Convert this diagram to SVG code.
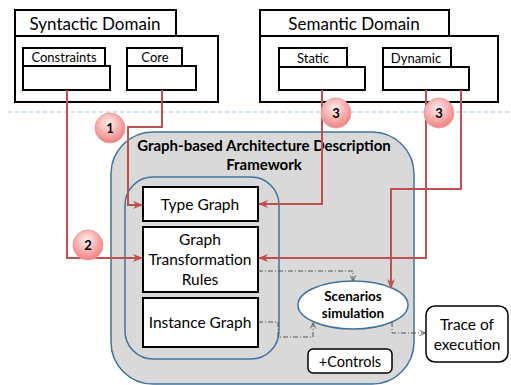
<svg xmlns="http://www.w3.org/2000/svg" width="511" height="385" viewBox="0 0 511 385">
<defs>
<radialGradient id="pink" cx="45%" cy="35%" r="65%">
<stop offset="0" stop-color="#fff0f0"/>
<stop offset="0.6" stop-color="#f8aaaa"/>
<stop offset="1" stop-color="#ee8080"/>
</radialGradient>
<marker id="ra" viewBox="0 0 10 10" refX="9" refY="5" markerWidth="5" markerHeight="5" orient="auto" markerUnits="strokeWidth">
<path d="M0,1 L10,5 L0,9 L3,5 z" fill="#c0504d"/>
</marker>
<marker id="ga" viewBox="0 0 10 10" refX="9" refY="5" markerWidth="7" markerHeight="7" orient="auto" markerUnits="strokeWidth">
<path d="M1,1 L9,5 L1,9" fill="none" stroke="#555" stroke-width="1.2"/>
</marker>
<style>
.t{font-family:Lato,"Liberation Sans",sans-serif;fill:#000}
.box{fill:#fff;stroke:#000;stroke-width:2}
.red{fill:none;stroke:#c0504d;stroke-width:2}
.dd{fill:none;stroke:#555;stroke-width:1;stroke-dasharray:5,2,1,2}
.num{fill:url(#pink);stroke:#e8a0a0;stroke-width:1}
.blue{stroke:#41719c;stroke-width:1.5}
</style>
</defs>
<line x1="8" y1="112" x2="511" y2="112" stroke="#9dc3e6" stroke-width="1" stroke-dasharray="4,3"/>

<g id="syntactic">
<rect class="box" x="15" y="10" width="161" height="26"/>
<rect class="box" x="15" y="36" width="203" height="66"/>
<text class="t" x="95" y="30" font-size="17" text-anchor="middle">Syntactic Domain</text>
</g>
<g id="constraints">
<rect class="box" x="23" y="48" width="82" height="18"/>
<rect class="box" x="23" y="66" width="87" height="24"/>
<text class="t" x="64" y="62" font-size="13" text-anchor="middle">Constraints</text>
</g>
<g id="core">
<rect class="box" x="127" y="48" width="55" height="18"/>
<rect class="box" x="127" y="66" width="69" height="24"/>
<text class="t" x="155" y="62" font-size="13" text-anchor="middle">Core</text>
</g>

<g id="semantic">
<rect class="box" x="260" y="10" width="189" height="26"/>
<rect class="box" x="260" y="36" width="238" height="66"/>
<text class="t" x="354" y="30" font-size="17" text-anchor="middle">Semantic Domain</text>
</g>
<g id="static">
<rect class="box" x="279" y="48" width="68" height="19"/>
<rect class="box" x="279" y="67" width="86" height="23"/>
<text class="t" x="313" y="63" font-size="13" text-anchor="middle">Static</text>
</g>
<g id="dynamic">
<rect class="box" x="383" y="48" width="68" height="19"/>
<rect class="box" x="383" y="67" width="86" height="23"/>
<text class="t" x="416" y="63" font-size="13" text-anchor="middle">Dynamic</text>
</g>

<g id="framework">
<rect x="111" y="132" width="303" height="252" rx="42" fill="#d9d9d9" class="blue"/>
<text class="t" x="264" y="151" font-size="15" font-weight="bold" text-anchor="middle">Graph-based Architecture Description</text>
<text class="t" x="264" y="170" font-size="15" font-weight="bold" text-anchor="middle">Framework</text>
</g>
<g id="inner">
<rect x="125" y="177" width="154" height="182" rx="28" fill="none" class="blue"/>
</g>
<g id="typegraph">
<rect class="box" x="143" y="187" width="115" height="34"/>
<text class="t" x="200" y="210" font-size="15.5" text-anchor="middle">Type Graph</text>
</g>
<g id="gtr">
<rect class="box" x="143" y="227" width="115" height="65"/>
<text class="t" x="200" y="245" font-size="15.5" text-anchor="middle">Graph</text>
<text class="t" x="200" y="265" font-size="15.5" text-anchor="middle">Transformation</text>
<text class="t" x="200" y="285" font-size="15.5" text-anchor="middle">Rules</text>
</g>
<g id="instance">
<rect class="box" x="143" y="298" width="115" height="49"/>
<text class="t" x="200" y="328" font-size="15.5" text-anchor="middle">Instance Graph</text>
</g>
<g id="scenarios">
<ellipse cx="353" cy="305" rx="55" ry="24" fill="#fff" class="blue"/>
<text class="t" x="353" y="301" font-size="13.5" font-weight="bold" text-anchor="middle">Scenarios</text>
<text class="t" x="353" y="318" font-size="13.5" font-weight="bold" text-anchor="middle">simulation</text>
</g>
<g id="controls">
<rect x="308" y="349" width="84" height="24" rx="5" fill="#fff" stroke="#000" stroke-width="1.5"/>
<text class="t" x="350" y="367" font-size="14.5" text-anchor="middle">+Controls</text>
</g>
<g id="trace">
<rect x="426" y="306" width="82" height="56" rx="9" fill="#fff" stroke="#000" stroke-width="1.5"/>
<text class="t" x="467" y="330" font-size="15.5" text-anchor="middle">Trace of</text>
<text class="t" x="467" y="350" font-size="15.5" text-anchor="middle">execution</text>
</g>

<g id="connectors">
<path class="red" d="M162,90 V127 H128 V205 H142" marker-end="url(#ra)"/>
<path class="red" d="M67,90 V258 H142" marker-end="url(#ra)"/>
<path class="red" d="M322,90 V204 H259" marker-end="url(#ra)"/>
<path class="red" d="M426,90 V258 H259" marker-end="url(#ra)"/>
<path class="red" d="M461,90 V189 H391 V288" marker-end="url(#ra)"/>
<path class="dd" d="M258,271 H353 V281" marker-end="url(#ga)"/>
<path class="dd" d="M258,322 H278 V337 H313 V323" marker-end="url(#ga)"/>
<path class="dd" d="M392,322 V333 H425" marker-end="url(#ga)"/>
</g>

<g id="badges">
<circle class="num" cx="110" cy="128" r="15"/>
<text class="t" x="110" y="133" font-size="13" font-weight="bold" text-anchor="middle">1</text>
<circle class="num" cx="88" cy="245" r="15"/>
<text class="t" x="88" y="250" font-size="13" font-weight="bold" text-anchor="middle">2</text>
<circle class="num" cx="336" cy="113" r="15"/>
<text class="t" x="336" y="118" font-size="13" font-weight="bold" text-anchor="middle">3</text>
<circle class="num" cx="439" cy="113" r="15"/>
<text class="t" x="439" y="118" font-size="13" font-weight="bold" text-anchor="middle">3</text>
</g>
</svg>
